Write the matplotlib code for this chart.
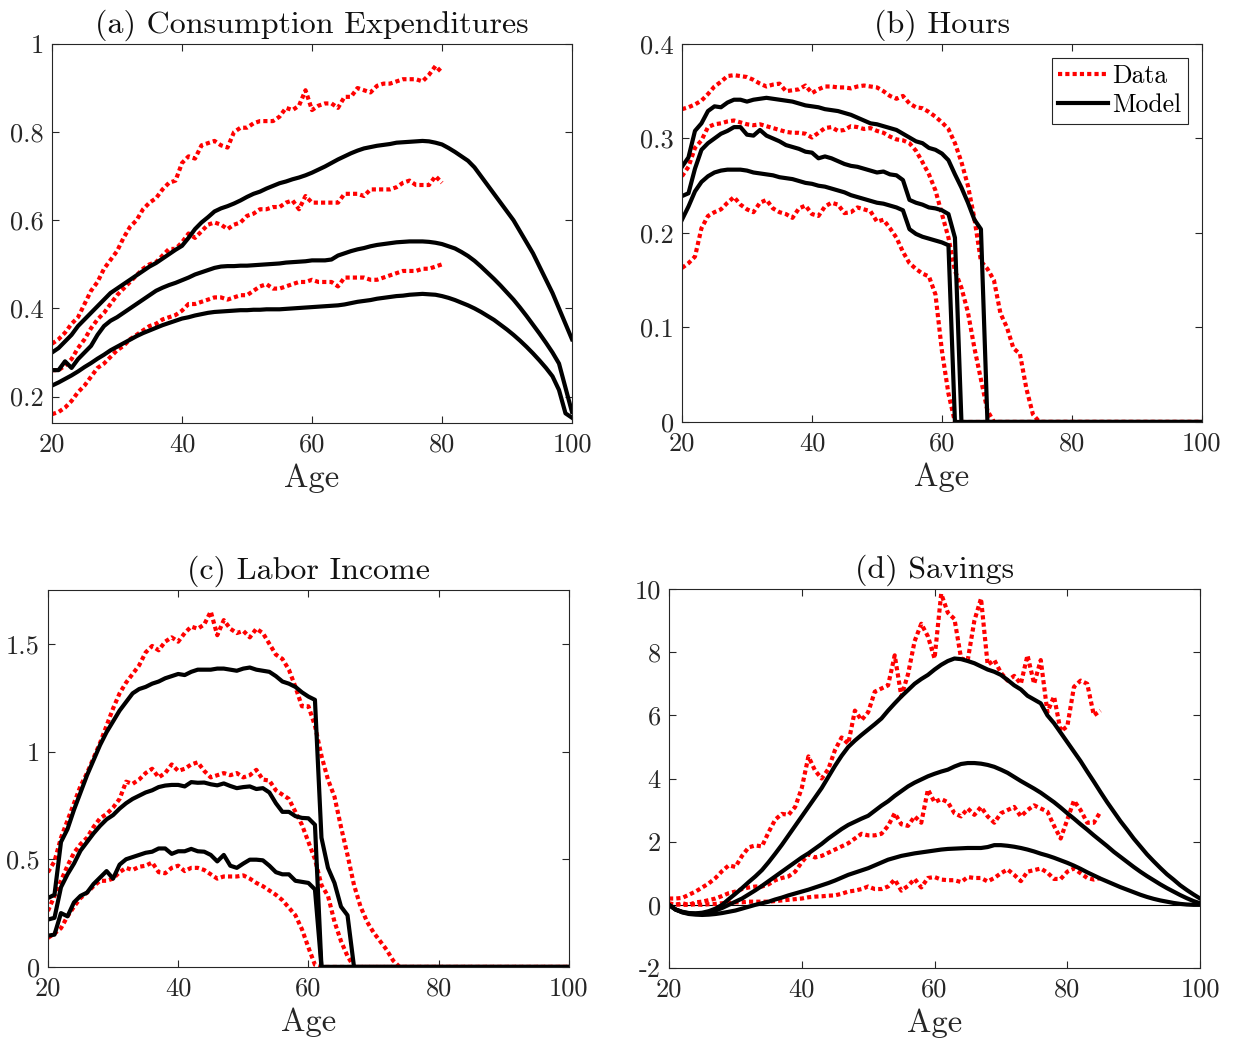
import numpy as np
import matplotlib
matplotlib.use("Agg")
import matplotlib.pyplot as plt

plt.rcParams['font.family'] = 'serif'
plt.rcParams['font.serif'] = ['cmr10', 'DejaVu Serif']
plt.rcParams['axes.unicode_minus'] = False
plt.rcParams['mathtext.fontset'] = 'cm'

ages = list(range(20, 101))

# (a) consumption expenditures
cons_ages_data = list(range(20, 81))
cons_data_hi = [0.32, 0.33, 0.345, 0.365, 0.38, 0.41, 0.44, 0.46, 0.49, 0.51,
                0.53, 0.56, 0.585, 0.60, 0.625, 0.64, 0.65, 0.67, 0.685, 0.69,
                0.73, 0.745, 0.74, 0.77, 0.775, 0.78, 0.77, 0.765, 0.80, 0.81,
                0.81, 0.82, 0.825, 0.825, 0.825, 0.835, 0.855, 0.85, 0.86, 0.895,
                0.85, 0.86, 0.865, 0.865, 0.855, 0.88, 0.88, 0.90, 0.895, 0.89,
                0.905, 0.91, 0.91, 0.915, 0.92, 0.92, 0.92, 0.915, 0.93, 0.95,
                0.935]
cons_data_mid = [0.26, 0.26, 0.27, 0.285, 0.31, 0.33, 0.355, 0.375, 0.39, 0.41,
                 0.43, 0.445, 0.46, 0.475, 0.49, 0.50, 0.505, 0.52, 0.535, 0.535,
                 0.55, 0.57, 0.56, 0.575, 0.59, 0.595, 0.59, 0.58, 0.59, 0.595,
                 0.61, 0.615, 0.625, 0.625, 0.63, 0.63, 0.64, 0.645, 0.625, 0.655,
                 0.64, 0.64, 0.64, 0.64, 0.64, 0.66, 0.66, 0.66, 0.655, 0.67,
                 0.67, 0.67, 0.67, 0.675, 0.685, 0.69, 0.68, 0.68, 0.68, 0.70,
                 0.685]
cons_data_lo = [0.16, 0.165, 0.175, 0.19, 0.21, 0.225, 0.245, 0.265, 0.275, 0.29,
                0.305, 0.315, 0.33, 0.34, 0.35, 0.36, 0.365, 0.375, 0.38, 0.385,
                0.395, 0.41, 0.41, 0.415, 0.42, 0.425, 0.425, 0.42, 0.425, 0.43,
                0.43, 0.44, 0.45, 0.455, 0.445, 0.445, 0.45, 0.455, 0.46, 0.46,
                0.465, 0.46, 0.46, 0.46, 0.45, 0.47, 0.47, 0.47, 0.47, 0.465,
                0.465, 0.47, 0.475, 0.48, 0.485, 0.485, 0.485, 0.49, 0.49, 0.495,
                0.50]
cons_model_hi = [0.30, 0.31, 0.325, 0.34, 0.36, 0.375, 0.39, 0.405, 0.42, 0.435,
                 0.445, 0.455, 0.465, 0.475, 0.485, 0.495, 0.503, 0.513, 0.523, 0.533,
                 0.542, 0.56, 0.58, 0.595, 0.607, 0.62, 0.627, 0.632, 0.638, 0.645,
                 0.653, 0.66, 0.665, 0.672, 0.678, 0.684, 0.688, 0.693, 0.697, 0.702,
                 0.708, 0.715, 0.722, 0.73, 0.738, 0.745, 0.752, 0.758, 0.763, 0.766,
                 0.769, 0.771, 0.773, 0.776, 0.777, 0.778, 0.779, 0.780, 0.779, 0.776,
                 0.772, 0.764, 0.755, 0.745, 0.735, 0.72, 0.70, 0.68, 0.66, 0.64,
                 0.62, 0.60, 0.575, 0.55, 0.525, 0.495, 0.465, 0.435, 0.40, 0.365,
                 0.33]
cons_model_mid = [0.26, 0.26, 0.28, 0.265, 0.285, 0.30, 0.315, 0.34, 0.36, 0.372,
                  0.38, 0.39, 0.40, 0.41, 0.42, 0.43, 0.44, 0.447, 0.453, 0.458,
                  0.464, 0.47, 0.477, 0.482, 0.487, 0.492, 0.495, 0.496, 0.496, 0.497,
                  0.497, 0.498, 0.499, 0.50, 0.501, 0.502, 0.504, 0.505, 0.506, 0.507,
                  0.509, 0.509, 0.509, 0.511, 0.52, 0.525, 0.53, 0.534, 0.537, 0.541,
                  0.544, 0.546, 0.548, 0.55, 0.551, 0.552, 0.552, 0.552, 0.551, 0.549,
                  0.546, 0.541, 0.536, 0.528, 0.519, 0.508, 0.495, 0.481, 0.467, 0.452,
                  0.436, 0.42, 0.402, 0.383, 0.363, 0.343, 0.322, 0.30, 0.275, 0.22,
                  0.165]
cons_model_lo = [0.225, 0.232, 0.24, 0.248, 0.257, 0.267, 0.276, 0.286, 0.295, 0.305,
                 0.313, 0.321, 0.329, 0.337, 0.344, 0.35, 0.356, 0.362, 0.367, 0.372,
                 0.377, 0.38, 0.384, 0.387, 0.39, 0.392, 0.393, 0.394, 0.395, 0.396,
                 0.396, 0.397, 0.397, 0.398, 0.398, 0.398, 0.399, 0.4, 0.401, 0.402,
                 0.403, 0.404, 0.405, 0.406, 0.407, 0.409, 0.412, 0.415, 0.417, 0.419,
                 0.422, 0.424, 0.426, 0.428, 0.429, 0.431, 0.432, 0.433, 0.432, 0.431,
                 0.428, 0.424, 0.419, 0.413, 0.407, 0.40, 0.392, 0.383, 0.374, 0.363,
                 0.352, 0.34, 0.327, 0.313, 0.298, 0.282, 0.265, 0.246, 0.215, 0.162,
                 0.152]

# (b) hours
hours_data_hi = [0.331, 0.333, 0.336, 0.34, 0.347, 0.355, 0.36, 0.366, 0.367, 0.366,
                 0.365, 0.362, 0.358, 0.355, 0.357, 0.358, 0.35, 0.351, 0.352, 0.356,
                 0.348, 0.352, 0.355, 0.355, 0.354, 0.354, 0.353, 0.355, 0.356, 0.355,
                 0.354, 0.35, 0.345, 0.342, 0.345, 0.337, 0.333, 0.332, 0.328, 0.323,
                 0.317, 0.31, 0.295, 0.275, 0.25, 0.215, 0.17, 0.162, 0.15, 0.115,
                 0.10, 0.078, 0.072, 0.035, 0.008] + [0.0] * 26
hours_data_mid = [0.26, 0.27, 0.29, 0.298, 0.312, 0.315, 0.316, 0.318, 0.319, 0.317,
                  0.315, 0.314, 0.315, 0.313, 0.311, 0.309, 0.307, 0.306, 0.306, 0.305,
                  0.301, 0.306, 0.311, 0.312, 0.308, 0.309, 0.313, 0.312, 0.31, 0.311,
                  0.308, 0.306, 0.302, 0.299, 0.298, 0.295, 0.287, 0.275, 0.262, 0.245,
                  0.22, 0.195, 0.16, 0.142, 0.116, 0.078, 0.045, 0.012] + [0.0] * 33
hours_data_lo = [0.163, 0.168, 0.175, 0.205, 0.218, 0.222, 0.225, 0.232, 0.238, 0.23,
                 0.225, 0.222, 0.232, 0.235, 0.226, 0.222, 0.22, 0.216, 0.226, 0.229,
                 0.22, 0.218, 0.228, 0.232, 0.23, 0.221, 0.222, 0.227, 0.225, 0.223,
                 0.212, 0.214, 0.205, 0.195, 0.18, 0.168, 0.162, 0.157, 0.154, 0.135,
                 0.075, 0.03] + [0.0] * 39
hours_model_hi = [0.27, 0.28, 0.308, 0.316, 0.329, 0.334, 0.333, 0.338, 0.341, 0.341,
                  0.339, 0.341, 0.342, 0.343, 0.342, 0.341, 0.34, 0.339, 0.337, 0.335,
                  0.334, 0.333, 0.331, 0.33, 0.329, 0.327, 0.325, 0.322, 0.319, 0.316,
                  0.315, 0.313, 0.311, 0.309, 0.305, 0.301, 0.297, 0.295, 0.29, 0.288,
                  0.284, 0.277, 0.262, 0.248, 0.232, 0.214, 0.204] + [0.0] * 34
hours_model_mid = [0.239, 0.242, 0.268, 0.288, 0.295, 0.30, 0.305, 0.308, 0.312, 0.312,
                   0.304, 0.303, 0.309, 0.303, 0.30, 0.297, 0.293, 0.291, 0.289, 0.286,
                   0.285, 0.279, 0.281, 0.279, 0.276, 0.273, 0.271, 0.27, 0.268, 0.266,
                   0.264, 0.265, 0.262, 0.261, 0.256, 0.235, 0.232, 0.23, 0.227, 0.226,
                   0.224, 0.22, 0.195] + [0.0] * 38
hours_model_lo = [0.214, 0.228, 0.244, 0.254, 0.26, 0.264, 0.266, 0.267, 0.267, 0.267,
                  0.266, 0.264, 0.263, 0.262, 0.261, 0.259, 0.258, 0.257, 0.255, 0.253,
                  0.252, 0.25, 0.249, 0.247, 0.245, 0.243, 0.24, 0.238, 0.236, 0.234,
                  0.232, 0.231, 0.229, 0.227, 0.224, 0.204, 0.199, 0.196, 0.194, 0.192,
                  0.19, 0.187] + [0.0] * 39

# (c) labor income
inc_data_hi = [0.44, 0.49, 0.60, 0.68, 0.76, 0.84, 0.90, 0.97, 1.04, 1.12,
               1.20, 1.27, 1.32, 1.36, 1.40, 1.46, 1.49, 1.47, 1.51, 1.53,
               1.51, 1.55, 1.58, 1.57, 1.59, 1.65, 1.54, 1.61, 1.57, 1.55,
               1.56, 1.53, 1.57, 1.55, 1.50, 1.45, 1.43, 1.38, 1.30, 1.21,
               1.21, 1.12, 0.98, 0.87, 0.79, 0.65, 0.52, 0.38, 0.28, 0.21,
               0.16, 0.12, 0.08, 0.03] + [0.0] * 27
inc_data_mid = [0.26, 0.33, 0.40, 0.47, 0.53, 0.57, 0.60, 0.65, 0.69, 0.71,
                0.74, 0.78, 0.86, 0.85, 0.87, 0.90, 0.92, 0.88, 0.90, 0.94,
                0.91, 0.92, 0.94, 0.95, 0.91, 0.88, 0.89, 0.90, 0.89, 0.90,
                0.88, 0.89, 0.915, 0.87, 0.865, 0.82, 0.80, 0.78, 0.72, 0.66,
                0.58, 0.50, 0.38, 0.33, 0.21, 0.12, 0.05] + [0.0] * 34
inc_data_lo = [0.135, 0.155, 0.18, 0.235, 0.28, 0.32, 0.345, 0.375, 0.40, 0.40,
               0.41, 0.44, 0.46, 0.45, 0.465, 0.47, 0.485, 0.44, 0.435, 0.46,
               0.47, 0.445, 0.46, 0.46, 0.45, 0.43, 0.41, 0.42, 0.42, 0.42,
               0.425, 0.41, 0.39, 0.375, 0.355, 0.335, 0.31, 0.275, 0.24, 0.175,
               0.09, 0.01] + [0.0] * 39
inc_model_hi = [0.32, 0.335, 0.58, 0.64, 0.73, 0.81, 0.89, 0.96, 1.03, 1.09,
                1.14, 1.19, 1.23, 1.27, 1.29, 1.30, 1.315, 1.325, 1.34, 1.35,
                1.36, 1.355, 1.37, 1.38, 1.38, 1.38, 1.385, 1.385, 1.38, 1.375,
                1.385, 1.39, 1.38, 1.375, 1.37, 1.35, 1.325, 1.315, 1.30, 1.275,
                1.255, 1.24, 0.60, 0.46, 0.39, 0.28, 0.24] + [0.0] * 34
inc_model_mid = [0.22, 0.228, 0.37, 0.43, 0.48, 0.54, 0.58, 0.62, 0.655, 0.685,
                 0.705, 0.735, 0.76, 0.78, 0.795, 0.81, 0.82, 0.835, 0.842, 0.845,
                 0.845, 0.838, 0.858, 0.855, 0.856, 0.848, 0.843, 0.852, 0.84, 0.83,
                 0.835, 0.838, 0.826, 0.83, 0.81, 0.76, 0.72, 0.72, 0.70, 0.692,
                 0.69, 0.66] + [0.0] * 39
inc_model_lo = [0.145, 0.15, 0.25, 0.235, 0.30, 0.33, 0.345, 0.385, 0.415, 0.445,
                0.41, 0.475, 0.50, 0.51, 0.52, 0.53, 0.535, 0.55, 0.55, 0.525,
                0.537, 0.537, 0.548, 0.537, 0.535, 0.52, 0.49, 0.52, 0.47, 0.46,
                0.48, 0.498, 0.498, 0.495, 0.47, 0.44, 0.43, 0.43, 0.40, 0.395,
                0.39, 0.36] + [0.0] * 39

# (d) savings
sav_ages_data = list(range(20, 86))
sav_data_hi = [0.2, 0.2, 0.22, 0.32, 0.42, 0.55, 0.68, 0.85, 1.07, 1.25,
               1.2, 1.55, 1.82, 1.88, 1.85, 2.3, 2.7, 2.88, 2.85, 3.1,
               3.7, 4.7, 4.25, 4.0, 4.3, 4.9, 5.3, 5.1, 6.15, 5.85,
               6.1, 6.75, 6.85, 6.95, 7.9, 6.6, 7.3, 8.35, 8.9, 8.5,
               7.8, 9.85, 9.25, 9.05, 7.8, 7.75, 9.0, 9.7, 7.6, 7.75,
               7.35, 7.1, 7.25, 7.0, 7.9, 7.0, 7.75, 6.1, 6.6, 5.5,
               5.65, 6.9, 7.1, 7.0, 6.0, 6.15]
sav_data_mid = [0.05, 0.0, 0.05, 0.0, 0.08, 0.1, 0.15, 0.2, 0.28, 0.37,
                0.42, 0.5, 0.55, 0.58, 0.58, 0.65, 0.78, 0.85, 0.9, 1.05,
                1.35, 1.6, 1.5, 1.55, 1.65, 1.75, 1.85, 1.95, 2.1, 2.25,
                2.2, 2.2, 2.25, 2.5, 2.9, 2.55, 2.5, 2.8, 2.6, 3.65,
                3.25, 3.35, 3.25, 2.9, 2.8, 3.05, 2.85, 3.1, 2.8, 2.6,
                2.9, 3.0, 3.1, 2.8, 3.0, 3.15, 3.05, 2.95, 2.5, 2.1,
                2.7, 3.3, 3.0, 2.6, 2.6, 2.95]
sav_data_lo = [0.0, 0.02, 0.0, 0.0, 0.02, 0.0, 0.02, 0.03, 0.05, 0.06,
               0.08, 0.08, 0.1, 0.1, 0.1, 0.1, 0.12, 0.14, 0.16, 0.18,
               0.2, 0.24, 0.26, 0.27, 0.29, 0.3, 0.35, 0.42, 0.45, 0.5,
               0.58, 0.5, 0.5, 0.58, 0.8, 0.45, 0.6, 0.82, 0.55, 0.85,
               0.88, 0.8, 0.78, 0.78, 0.72, 0.88, 0.85, 0.85, 0.74, 0.85,
               1.0, 1.12, 0.95, 0.75, 1.05, 1.1, 1.15, 1.02, 0.82, 0.82,
               1.05, 1.15, 1.0, 0.85, 0.8, 0.85]
sav_model_hi = [0.0, -0.15, -0.22, -0.26, -0.27, -0.25, -0.2, -0.12, 0.0, 0.18,
                0.35, 0.53, 0.72, 0.9, 1.1, 1.35, 1.62, 1.9, 2.2, 2.5,
                2.8, 3.1, 3.4, 3.7, 4.05, 4.4, 4.72, 5.0, 5.2, 5.38,
                5.55, 5.72, 5.9, 6.15, 6.38, 6.6, 6.8, 7.0, 7.15, 7.28,
                7.45, 7.6, 7.72, 7.8, 7.78, 7.72, 7.65, 7.55, 7.45, 7.38,
                7.28, 7.12, 6.95, 6.82, 6.62, 6.5, 6.38, 6.0, 5.75, 5.45,
                5.15, 4.85, 4.55, 4.22, 3.9, 3.57, 3.25, 2.95, 2.65, 2.38,
                2.1, 1.85, 1.6, 1.38, 1.17, 0.97, 0.8, 0.62, 0.47, 0.33,
                0.2]
sav_model_mid = [0.0, -0.15, -0.23, -0.27, -0.28, -0.27, -0.24, -0.18, -0.1, 0.0,
                 0.1, 0.2, 0.33, 0.46, 0.6, 0.75, 0.9, 1.05, 1.2, 1.35,
                 1.5, 1.63, 1.78, 1.93, 2.1, 2.25, 2.4, 2.53, 2.63, 2.73,
                 2.82, 2.98, 3.14, 3.28, 3.45, 3.6, 3.75, 3.87, 3.97, 4.07,
                 4.15, 4.22, 4.28, 4.38, 4.46, 4.49, 4.49, 4.47, 4.43, 4.37,
                 4.28, 4.18, 4.05, 3.92, 3.8, 3.68, 3.55, 3.4, 3.25, 3.08,
                 2.9, 2.73, 2.55, 2.38, 2.2, 2.03, 1.86, 1.68, 1.52, 1.36,
                 1.2, 1.05, 0.91, 0.78, 0.65, 0.53, 0.42, 0.31, 0.21, 0.12,
                 0.05]
sav_model_lo = [0.0, -0.15, -0.24, -0.29, -0.31, -0.32, -0.31, -0.29, -0.26, -0.22,
                -0.18, -0.12, -0.06, 0.0, 0.05, 0.1, 0.17, 0.23, 0.3, 0.36,
                0.42, 0.48, 0.55, 0.62, 0.69, 0.77, 0.86, 0.95, 1.02, 1.09,
                1.16, 1.25, 1.34, 1.43, 1.49, 1.55, 1.59, 1.63, 1.66, 1.69,
                1.72, 1.75, 1.77, 1.78, 1.79, 1.8, 1.8, 1.8, 1.83, 1.89,
                1.89, 1.87, 1.84, 1.8, 1.75, 1.69, 1.62, 1.56, 1.49, 1.41,
                1.33, 1.24, 1.14, 1.03, 0.93, 0.83, 0.74, 0.65, 0.56, 0.48,
                0.4, 0.32, 0.25, 0.19, 0.14, 0.1, 0.06, 0.03, 0.01, 0.0,
                0.0]

data_style = dict(color=(1, 0, 0), lw=3, linestyle=(0, (1.0, 0.75)), solid_capstyle='butt', dash_capstyle='butt')
model_style = dict(color='black', lw=3)

fig = plt.figure(figsize=(12.33, 10.44), dpi=100)
ax_a = fig.add_axes([0.0422, 0.5948, 0.4217, 0.3631])
ax_b = fig.add_axes([0.5531, 0.5958, 0.4217, 0.3621])
ax_c = fig.add_axes([0.0389, 0.0738, 0.4225, 0.3611])
ax_d = fig.add_axes([0.5426, 0.0728, 0.4307, 0.3630])


def style(ax, title, yticks, ylabels, ylim):
    ax.set_xlim(20, 100)
    ax.set_ylim(*ylim)
    ax.set_xticks([20, 40, 60, 80, 100])
    ax.set_xticklabels(['20', '40', '60', '80', '100'])
    ax.set_yticks(yticks)
    ax.set_yticklabels(ylabels)
    ax.tick_params(direction='in', top=True, right=True, length=5, width=0.8,
                   labelsize=19, colors='#262626', pad=6)
    ax.tick_params(axis='x', pad=7)
    for s in ax.spines.values():
        s.set_linewidth(0.8)
        s.set_color('#262626')
    ax.set_title(title, fontsize=23, pad=8, color='#111111')
    ax.set_xlabel('Age', fontsize=23.5, labelpad=5, color='#262626')


# (a)
for y in [cons_data_hi, cons_data_mid, cons_data_lo]:
    ax_a.plot(cons_ages_data, y, **data_style)
for y in [cons_model_hi, cons_model_mid, cons_model_lo]:
    ax_a.plot(ages, y, **model_style)
style(ax_a, '(a) Consumption Expenditures', [0.2, 0.4, 0.6, 0.8, 1.0],
      ['0.2', '0.4', '0.6', '0.8', '1'], (0.14, 1.0))

# (b)
ax_b.plot(ages, hours_data_hi, label='Data', **data_style)
ax_b.plot(ages, hours_data_mid, **data_style)
ax_b.plot(ages, hours_data_lo, **data_style)
ax_b.plot(ages, hours_model_hi, label='Model', **model_style)
ax_b.plot(ages, hours_model_mid, **model_style)
ax_b.plot(ages, hours_model_lo, **model_style)
style(ax_b, '(b) Hours', [0, 0.1, 0.2, 0.3, 0.4],
      ['0', '0.1', '0.2', '0.3', '0.4'], (0, 0.4))
leg = ax_b.legend(loc='upper right', fontsize=18.5, fancybox=False, framealpha=1,
                  edgecolor='#262626', handlelength=1.95, handletextpad=0.15,
                  borderpad=0.25, labelspacing=0.2, borderaxespad=0.55)
leg.get_frame().set_linewidth(0.8)

# (c)
for y in [inc_data_hi, inc_data_mid, inc_data_lo]:
    ax_c.plot(ages, y, **data_style)
for y in [inc_model_hi, inc_model_mid, inc_model_lo]:
    ax_c.plot(ages, y, **model_style)
style(ax_c, '(c) Labor Income', [0, 0.5, 1.0, 1.5],
      ['0', '0.5', '1', '1.5'], (0, 1.75))

# (d)
ax_d.axhline(0, color='black', lw=0.8)
for y in [sav_data_hi, sav_data_mid, sav_data_lo]:
    ax_d.plot(sav_ages_data, y, **data_style)
for y in [sav_model_hi, sav_model_mid, sav_model_lo]:
    ax_d.plot(ages, y, **model_style)
style(ax_d, '(d) Savings', [-2, 0, 2, 4, 6, 8, 10],
      ['-2', '0', '2', '4', '6', '8', '10'], (-2, 10))

fig.savefig('out.png', dpi=100)
